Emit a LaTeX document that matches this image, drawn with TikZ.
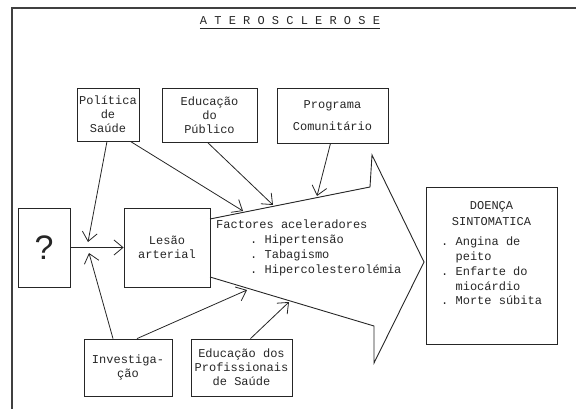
\documentclass[tikz,border=0pt]{standalone}
\usepackage{fontspec}
\setmonofont{Liberation Mono}
\setsansfont{Liberation Sans}
\usepackage{tikz}
\usetikzlibrary{arrows.meta}
\tikzset{
  box/.style={draw, line width=0.8pt, inner sep=0pt},
  txt/.style={font=\ttfamily\fontsize{12}{14}\selectfont, inner sep=0pt},
  link/.style={line width=0.8pt, -{Straight Barb[length=9pt,width=15pt,line width=0.8pt]}},
}

\begin{document}
\begin{tikzpicture}[x=1pt, y=1pt, black!85]
  \useasboundingbox (0, 0) rectangle (576, -409);
  \draw[line width=1.3pt, black!75] (12, -409) -- (12, -8) -- (576, -8);

  % title
  \node[txt] at (290, -21) (title) {A T E R O S C L E R O S E};
  \draw[line width=0.9pt] ([yshift=-3pt]title.south west) -- ([yshift=-3pt]title.south east);

  % boxes on top
  \node[box, txt, align=center, minimum width=62, minimum height=53] at (108, -114.5) (pol)
    {Política\\de\\Saúde};
  \node[box, txt, align=center, minimum width=95, minimum height=54] at (209.5, -115) (pub)
    {Educação\\do\\Público};
  \node[box, txt, align=center, minimum width=111, minimum height=55] at (332.5, -115.5) (prog)
    {Programa\\[8pt]Comunitário};

  % middle row
  \node[box, minimum width=52, minimum height=79, font=\sffamily\fontsize{34}{34}\selectfont] at (44, -247.5) (quest) {?};
  \node[box, txt, align=center, minimum width=86, minimum height=79] at (167, -247.5) (lesao)
    {Lesão\\arterial};

  % big arrow
  \coordinate (a1) at (210, -219);
  \coordinate (a2) at (370, -187);
  \coordinate (a3) at (372, -155);
  \coordinate (a4) at (424, -262);
  \coordinate (a5) at (374, -363);
  \coordinate (a6) at (374, -326);
  \coordinate (a7) at (210, -277);
  \draw[line width=0.9pt] (a1) -- (a2) -- (a3) -- (a4) -- (a5) -- (a6) -- (a7);

  \node[txt, align=left, anchor=north west, font=\ttfamily\fontsize{12}{15}\selectfont] at (216, -220) (fact)
    {Factores aceleradores\\
     \hspace*{34pt}. Hipertensão\\
     \hspace*{34pt}. Tabagismo\\
     \hspace*{34pt}. Hipercolesterolémia};

  % right box
  \node[box, minimum width=131, minimum height=157] at (491.5, -265.5) (doenca) {};
  \node[txt, align=center, anchor=north, font=\ttfamily\fontsize{12}{15.5}\selectfont] at ([yshift=-15pt]doenca.north) (dtitle)
    {DOENÇA\\SINTOMATICA};
  \node[txt, align=left, anchor=north west, font=\ttfamily\fontsize{12}{14.75}\selectfont] at (441, -237) (dlist)
    {. Angina de\\
     \phantom{. }peito\\
     . Enfarte do\\
     \phantom{. }miocárdio\\
     . Morte súbita};

  % boxes at the bottom
  \node[box, txt, align=center, minimum width=88, minimum height=57] at (128, -367.5) (invest)
    {Investiga-\\ção};
  \node[box, txt, align=center, minimum width=101, minimum height=57] at (241.5, -367.5) (prof)
    {Educação dos\\Profissionais\\de Saúde};

  % arrow ends
  \coordinate (j1) at (88, -242);
  \coordinate (j2) at (89, -253);
  \coordinate (c2) at (243, -211);
  \coordinate (c3) at (273, -205);
  \coordinate (c4) at (317, -196);
  \coordinate (c7) at (247, -290);
  \coordinate (c8) at (289, -302);

  \draw[link] (quest.east) -- (lesao.west);
  \draw[link] ([xshift=-1pt]pol.south) -- (j1);
  \draw[link] ([xshift=-9pt]pol.south east) -- (c2);
  \draw[link] ([xshift=-2pt]pub.south) -- (c3);
  \draw[link] ([xshift=-2pt]prog.south) -- (c4);
  \draw[link] ([xshift=-15pt]invest.north) -- (j2);
  \draw[link] ([xshift=9pt]invest.north) -- (c7);
  \draw[link] ([xshift=9pt]prof.north) -- (c8);
\end{tikzpicture}
\end{document}
